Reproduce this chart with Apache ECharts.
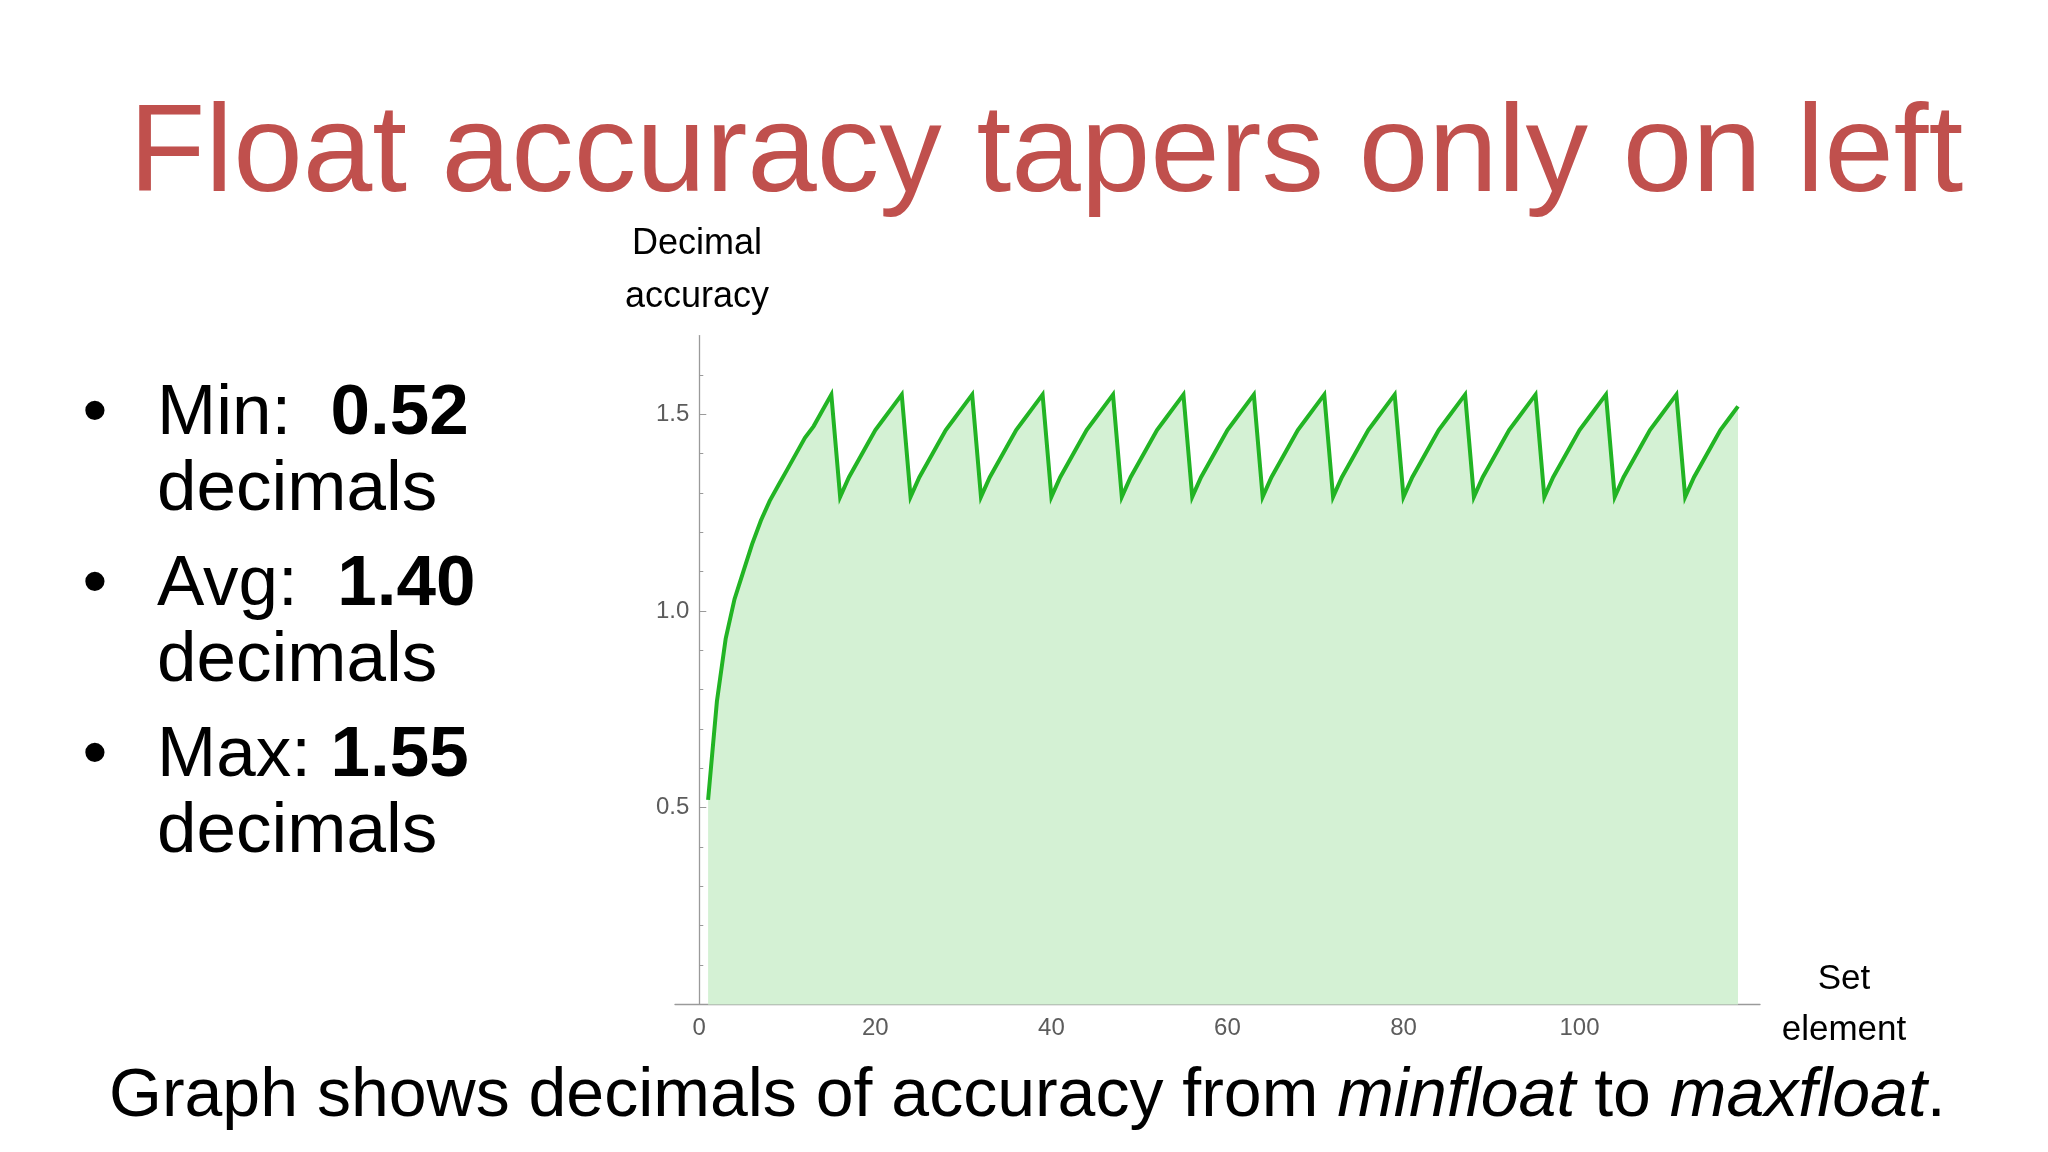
<!DOCTYPE html>
<html>
<head>
<meta charset="utf-8">
<title>Float accuracy</title>
<script src="https://cdn.jsdelivr.net/npm/echarts@6/dist/echarts.min.js"></script>
<style>
  html, body { margin: 0; padding: 0; background: #fff; }
  #chart { width: 2048px; height: 1152px; }
</style>
</head>
<body>
<div id="chart"></div>
<script>
// decimal accuracy per set element (element 1..118)
const accuracy = [
  0.52, 0.77, 0.93, 1.03, 1.10, 1.17, 1.23, 1.28, 1.32, 1.36, 1.40, 1.44, 1.47, 1.51, 1.55,
  1.29, 1.34, 1.38, 1.42, 1.46, 1.49, 1.52, 1.55,
  1.29, 1.34, 1.38, 1.42, 1.46, 1.49, 1.52, 1.55,
  1.29, 1.34, 1.38, 1.42, 1.46, 1.49, 1.52, 1.55,
  1.29, 1.34, 1.38, 1.42, 1.46, 1.49, 1.52, 1.55,
  1.29, 1.34, 1.38, 1.42, 1.46, 1.49, 1.52, 1.55,
  1.29, 1.34, 1.38, 1.42, 1.46, 1.49, 1.52, 1.55,
  1.29, 1.34, 1.38, 1.42, 1.46, 1.49, 1.52, 1.55,
  1.29, 1.34, 1.38, 1.42, 1.46, 1.49, 1.52, 1.55,
  1.29, 1.34, 1.38, 1.42, 1.46, 1.49, 1.52, 1.55,
  1.29, 1.34, 1.38, 1.42, 1.46, 1.49, 1.52, 1.55,
  1.29, 1.34, 1.38, 1.42, 1.46, 1.49, 1.52, 1.55,
  1.29, 1.34, 1.38, 1.42, 1.46, 1.49, 1.52, 1.55,
  1.29, 1.34, 1.38, 1.42, 1.46, 1.49, 1.52
]
// tick values
const xLabelTicks = [0, 20, 40, 60, 80, 100]
const xMinorTicks = [5, 10, 15, 25, 30, 35, 45, 50, 55, 65, 70, 75, 85, 90, 95, 105, 110, 115]
const yLabelTicks = [0.5, 1.0, 1.5]
const yMinorTicks = [0.1, 0.2, 0.3, 0.4, 0.6, 0.7, 0.8, 0.9, 1.1, 1.2, 1.3, 1.4, 1.6]
// bullet text
const stats = [
  { name: 'Min:  ', value: '0.52' },
  { name: 'Avg:  ', value: '1.40' },
  { name: 'Max: ', value: '1.55' }
]

const FONT = '"Liberation Sans", Arial, Helvetica, sans-serif'
const AXIS_GRAY = '#9a9a9a'
const LABEL_GRAY = '#5c5c5c'

const X_MIN = -2.76
const X_MAX = 120.5
const GRID_LEFT = 675
const GRID_WIDTH = 1085
// pixel distance from grid left edge to x = 0 (where the y axis sits)
const Y_AXIS_SHIFT = GRID_WIDTH * (0 - X_MIN) / (X_MAX - X_MIN)

const chart = echarts.init(document.getElementById('chart'))

const seriesData = accuracy.map((v, i) => [i + 1, v])

// text blocks around the plot
const graphics = [
  {
    type: 'text', x: 129, y: 157,
    style: { text: 'Float accuracy tapers only on left', fill: '#c0504d', font: '125px ' + FONT, align: 'left', verticalAlign: 'middle' }
  },
  { type: 'text', x: 697, y: 244, style: { text: 'Decimal', fill: '#000', font: '36px ' + FONT, align: 'center', verticalAlign: 'middle' } },
  { type: 'text', x: 697, y: 297, style: { text: 'accuracy', fill: '#000', font: '36px ' + FONT, align: 'center', verticalAlign: 'middle' } },
  { type: 'text', x: 1844, y: 979, style: { text: 'Set', fill: '#000', font: '35px ' + FONT, align: 'center', verticalAlign: 'middle' } },
  { type: 'text', x: 1844, y: 1030, style: { text: 'element', fill: '#000', font: '35px ' + FONT, align: 'center', verticalAlign: 'middle' } },
  {
    type: 'text', x: 109, y: 1097,
    style: {
      text: 'Graph shows decimals of accuracy from {i|minfloat} to {i|maxfloat}.',
      fill: '#000', font: '68px ' + FONT, align: 'left', verticalAlign: 'middle',
      rich: { i: { fontStyle: 'italic', fontSize: 68, fontFamily: FONT, fill: '#000' } }
    }
  }
]
stats.forEach((s, i) => {
  const y0 = 414 + i * 171
  graphics.push({ type: 'text', x: 95, y: y0, style: { text: '•', fill: '#000', font: '71px ' + FONT, align: 'center', verticalAlign: 'middle' } })
  graphics.push({
    type: 'text', x: 157, y: y0,
    style: {
      text: s.name + '{b|' + s.value + '}', fill: '#000', font: '71px ' + FONT, align: 'left', verticalAlign: 'middle',
      rich: { b: { fontWeight: 'bold', fontSize: 71, fontFamily: FONT, fill: '#000' } }
    }
  })
  graphics.push({ type: 'text', x: 157, y: y0 + 76, style: { text: 'decimals', fill: '#000', font: '71px ' + FONT, align: 'left', verticalAlign: 'middle' } })
})

const option = {
  backgroundColor: '#ffffff',
  animation: false,
  textStyle: { fontFamily: FONT },
  grid: { left: GRID_LEFT, top: 335.6, width: GRID_WIDTH, height: 668.8 },
  xAxis: [
    {
      type: 'value', min: X_MIN, max: X_MAX,
      axisLine: { lineStyle: { color: AXIS_GRAY, width: 1.3 } },
      axisTick: { inside: true, length: 7, customValues: xLabelTicks, lineStyle: { color: AXIS_GRAY } },
      axisLabel: { customValues: xLabelTicks, fontSize: 24, color: LABEL_GRAY, margin: 12 },
      splitLine: { show: false }
    },
    {
      type: 'value', min: X_MIN, max: X_MAX, position: 'bottom',
      axisLine: { show: false, onZero: false },
      axisTick: { inside: true, length: 4, customValues: xMinorTicks, lineStyle: { color: AXIS_GRAY } },
      axisLabel: { show: false },
      splitLine: { show: false }
    }
  ],
  yAxis: [
    {
      type: 'value', min: 0, max: 1.7, position: 'left',
      axisLine: { show: true, onZero: false, lineStyle: { color: AXIS_GRAY, width: 1.3 } },
      offset: -Y_AXIS_SHIFT,
      axisTick: { inside: true, length: 4, customValues: yMinorTicks, lineStyle: { color: AXIS_GRAY } },
      axisLabel: { show: false },
      splitLine: { show: false }
    },
    {
      type: 'value', min: 0, max: 1.7, position: 'left',
      axisLine: { show: false, onZero: false },
      offset: -Y_AXIS_SHIFT,
      axisTick: { show: true, inside: true, length: 7, customValues: yLabelTicks, lineStyle: { color: AXIS_GRAY } },
      axisLabel: {
        customValues: yLabelTicks, fontSize: 24, color: LABEL_GRAY, margin: 10,
        formatter: (v) => v.toFixed(1)
      },
      splitLine: { show: false }
    }
  ],
  series: [
    {
      type: 'line',
      xAxisIndex: 0,
      yAxisIndex: 0,
      data: seriesData,
      showSymbol: false,
      lineStyle: { color: '#22b424', width: 4, join: 'miter' },
      areaStyle: { color: '#d4f1d4', opacity: 1 },
      z: 1
    }
  ],
  graphic: graphics
}

chart.setOption(option)
</script>
</body>
</html>
